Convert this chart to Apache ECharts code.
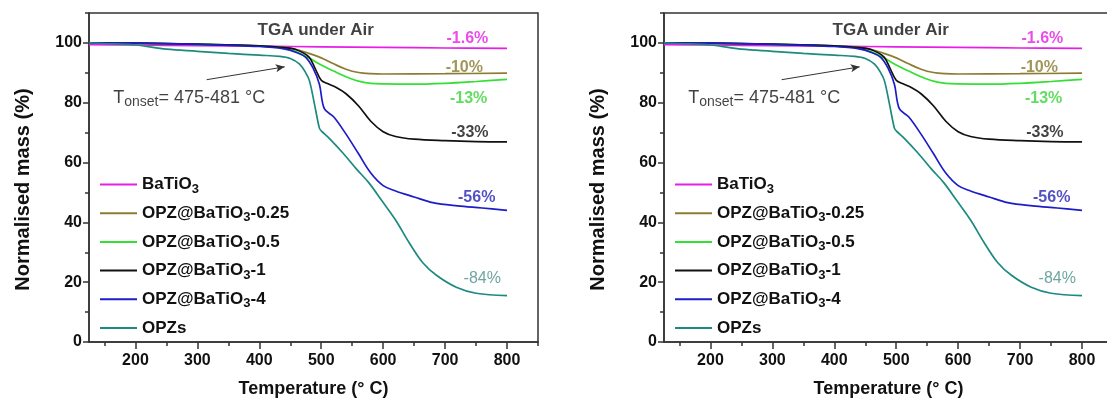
<!DOCTYPE html>
<html><head><meta charset="utf-8">
<script src="https://cdn.jsdelivr.net/npm/echarts@6/dist/echarts.min.js"></script>
<style>html,body{margin:0;padding:0;background:#fff}#c{width:1107px;height:402px}</style>
</head><body><div id="c"></div>
<script>
// ---- data ----
const names = ['BaTiO3', 'OPZ@BaTiO3-0.25', 'OPZ@BaTiO3-0.5', 'OPZ@BaTiO3-1', 'OPZ@BaTiO3-4', 'OPZs'];

const tBa = [125, 200, 300, 400, 500, 600, 700, 800];
const mBa = [99.4, 99.3, 99.1, 98.9, 98.7, 98.5, 98.3, 98.2];

const tP025 = [125, 200, 300, 400, 440, 460, 480, 500, 520, 540, 560, 580, 600, 700, 800];
const mP025 = [100, 99.9, 99.5, 99.0, 98.5, 97.8, 96.5, 95.0, 93.0, 91.2, 90.1, 89.7, 89.6, 89.7, 89.9];

const tP05 = [125, 200, 300, 400, 440, 460, 480, 500, 520, 540, 560, 580, 600, 650, 700, 750, 800];
const mP05 = [100, 99.9, 99.5, 98.9, 98.2, 97.0, 95.0, 92.6, 90.6, 88.7, 87.2, 86.5, 86.3, 86.2, 86.5, 87.1, 87.8];

const tP1 = [125, 200, 300, 400, 440, 460, 480, 490, 500, 510, 525, 540, 560, 580, 600, 620, 650, 700, 750, 800];
const mP1 = [100, 99.9, 99.6, 99.0, 98.4, 97.7, 95.3, 91.5, 87.5, 86.4, 85.0, 83.0, 79.0, 73.8, 70.3, 68.7, 67.8, 67.3, 67.0, 66.9];

const tP4 = [125, 200, 300, 400, 440, 460, 475, 487, 497, 505, 520, 540, 560, 580, 600, 620, 650, 680, 720, 760, 800];
const mP4 = [100, 99.9, 99.5, 98.8, 98.0, 96.8, 95.2, 91.5, 86.2, 78.0, 75.3, 69.5, 63.0, 56.5, 52.3, 50.5, 48.5, 46.6, 45.5, 44.8, 44.0];

const tOPZ = [125, 150, 200, 250, 300, 350, 400, 433, 450, 465, 475, 481, 489, 497, 500, 511, 535, 557, 577, 598, 620, 642, 664, 686, 718, 750, 800];
const mOPZ = [100, 99.8, 99.3, 97.9, 97.2, 96.5, 95.9, 95.5, 94.8, 92.9, 90.0, 87.3, 79.6, 71.5, 70.6, 68.5, 63.2, 57.8, 53.2, 47.2, 40.8, 33.2, 26.5, 22.3, 18.3, 16.3, 15.5];

const xTickLabels = [200, 300, 400, 500, 600, 700, 800];
const xMinorTicks = [150, 250, 350, 450, 550, 650, 750, 850];
const yTickLabels = [0, 20, 40, 60, 80, 100];
const yMinorTicks = [10, 30, 50, 70, 90, 110];
const lossLabels = ['-1.6%', '-10%', '-13%', '-33%', '-56%', '-84%'];

// ---- build ----
const temps = [tBa, tP025, tP05, tP1, tP4, tOPZ];
const masses = [mBa, mP025, mP05, mP1, mP4, mOPZ];
const colors = ['#e61ee6', '#8c7b30', '#33e033', '#111111', '#1c1cc8', '#1d8a80'];
const lossColors = ['#e61ee6', '#8a7a2e', '#3ad43a', '#111111', '#2626b4', '#4a8f88'];
const lossWeights = ['bold', 'bold', 'bold', 'bold', 'bold', 'normal'];
const lossAt = [[736, 101.3], [731, 91.7], [738, 81.3], [740, 70], [751, 48.3], [760, 21.3]];

const gridW = 449, gridH = 329, gridTop = 13;
const gridLefts = [89, 664];
const FONT = '"Liberation Sans", Arial, sans-serif';

const grids = [], xAxes = [], yAxes = [], series = [], legends = [];

function legendFmt(name) {
  if (name.indexOf('BaTiO3') >= 0) {
    const parts = name.split('BaTiO3');
    return '{n|' + parts[0] + 'BaTiO}{s|3}{n|' + parts[1] + '}';
  }
  return '{n|' + name + '}';
}

gridLefts.forEach((gl, p) => {
  grids.push({ left: gl, top: gridTop, width: gridW, height: gridH, show: true,
    outerBoundsMode: 'none', containLabel: false,
    borderColor: '#333', borderWidth: 1.5, backgroundColor: 'transparent' });
  const xi = xAxes.length, yi = yAxes.length;
  xAxes.push({
    type: 'value', gridIndex: p, min: 125, max: 850, interval: 25, position: 'bottom',
    name: 'Temperature (° C)', nameLocation: 'middle', nameGap: 38,
    nameTextStyle: { fontFamily: FONT, fontSize: 18, fontWeight: 'bold', color: '#111' },
    axisLine: { show: true, onZero: false, lineStyle: { color: '#333', width: 1.5 } },
    axisTick: { show: true, customValues: xTickLabels, length: 7, inside: false, lineStyle: { color: '#333', width: 1.5 } },
    axisLabel: { show: true, customValues: xTickLabels, margin: 11, fontFamily: FONT, fontSize: 16, fontWeight: 'bold', color: '#111' },
    splitLine: { show: false }
  });
  xAxes.push({
    type: 'value', gridIndex: p, min: 125, max: 850, interval: 25, position: 'bottom',
    axisLine: { show: false, onZero: false },
    axisTick: { show: true, customValues: xMinorTicks, length: 4, lineStyle: { color: '#333', width: 1.5 } },
    axisLabel: { show: false }, splitLine: { show: false }
  });
  yAxes.push({
    type: 'value', gridIndex: p, min: 0, max: 110, interval: 10, position: 'left',
    name: 'Normalised mass (%)', nameLocation: 'middle', nameGap: 56, nameRotate: 90,
    nameTextStyle: { fontFamily: FONT, fontSize: 20, fontWeight: 'bold', color: '#111', padding: [0, 24, 0, 0] },
    axisLine: { show: true, onZero: false, lineStyle: { color: '#333', width: 1.5 } },
    axisTick: { show: true, customValues: yTickLabels, length: 6, lineStyle: { color: '#333', width: 1.5 } },
    axisLabel: { show: true, customValues: yTickLabels, margin: 7, fontFamily: FONT, fontSize: 16, fontWeight: 'bold', color: '#111' },
    splitLine: { show: false }
  });
  yAxes.push({
    type: 'value', gridIndex: p, min: 0, max: 110, interval: 10, position: 'left',
    axisLine: { show: false, onZero: false },
    axisTick: { show: true, customValues: yMinorTicks, length: 4, lineStyle: { color: '#333', width: 1.5 } },
    axisLabel: { show: false }, splitLine: { show: false }
  });

  names.forEach((nm, k) => {
    series.push({
      name: nm, type: 'line', xAxisIndex: xi, yAxisIndex: yi,
      data: temps[k].map((t, j) => [t, masses[k][j]]),
      showSymbol: false, symbol: 'none', smooth: 0.35,
      lineStyle: { color: colors[k], width: 1.7 }, itemStyle: { color: colors[k] },
      z: 3, silent: true, animation: false
    });
  });

  // annotations (text placed in data coordinates)
  series.push({
    name: 'notes' + p, type: 'scatter', xAxisIndex: xi, yAxisIndex: yi,
    symbolSize: 0, silent: true, animation: false, z: 5,
    data: lossLabels.map((txt, k) => ({
      value: lossAt[k],
      label: { show: true, position: 'inside', formatter: txt, fontFamily: FONT, fontSize: 16,
        fontWeight: lossWeights[k], color: lossColors[k] }
    })).concat([
      { value: [491, 104.3], label: { show: true, position: 'inside', formatter: 'TGA under Air',
        fontFamily: FONT, fontSize: 17, fontWeight: 'bold', color: '#111' } },
      { value: [164, 81.5], label: { show: true, position: 'right', distance: 0,
        formatter: '{n|T}{s|onset}{n|= 475-481 °C}', fontFamily: FONT, color: '#111',
        rich: { n: { fontFamily: FONT, fontSize: 18, color: '#111', lineHeight: 22 },
                s: { fontFamily: FONT, fontSize: 14, color: '#111', lineHeight: 6, verticalAlign: 'bottom' } } } }
    ]),
    markLine: {
      silent: true, symbol: ['none', 'arrow'], symbolSize: [6, 9], animation: false,
      label: { show: false },
      lineStyle: { color: '#333', width: 1, type: 'solid' },
      data: [[{ coord: [315, 87.7] }, { coord: [441, 92] }]]
    }
  });

  legends.push({
    data: names, orient: 'vertical', left: gl + 6, top: 171,
    icon: 'rect', itemWidth: 37, itemHeight: 2, itemGap: 9.2, selectedMode: false,
    formatter: legendFmt,
    textStyle: {
      fontFamily: FONT, fontSize: 17, fontWeight: 'bold', color: '#111',
      rich: {
        n: { fontFamily: FONT, fontSize: 17, fontWeight: 'bold', color: '#111', lineHeight: 22 },
        s: { fontFamily: FONT, fontSize: 13, fontWeight: 'bold', color: '#111', lineHeight: 10, verticalAlign: 'bottom' }
      }
    }
  });
});

const chart = echarts.init(document.getElementById('c'), null, { renderer: 'canvas' });
chart.setOption({
  backgroundColor: '#fff', animation: false,
  grid: grids, xAxis: xAxes, yAxis: yAxes, legend: legends, series: series
});
</script></body></html>
